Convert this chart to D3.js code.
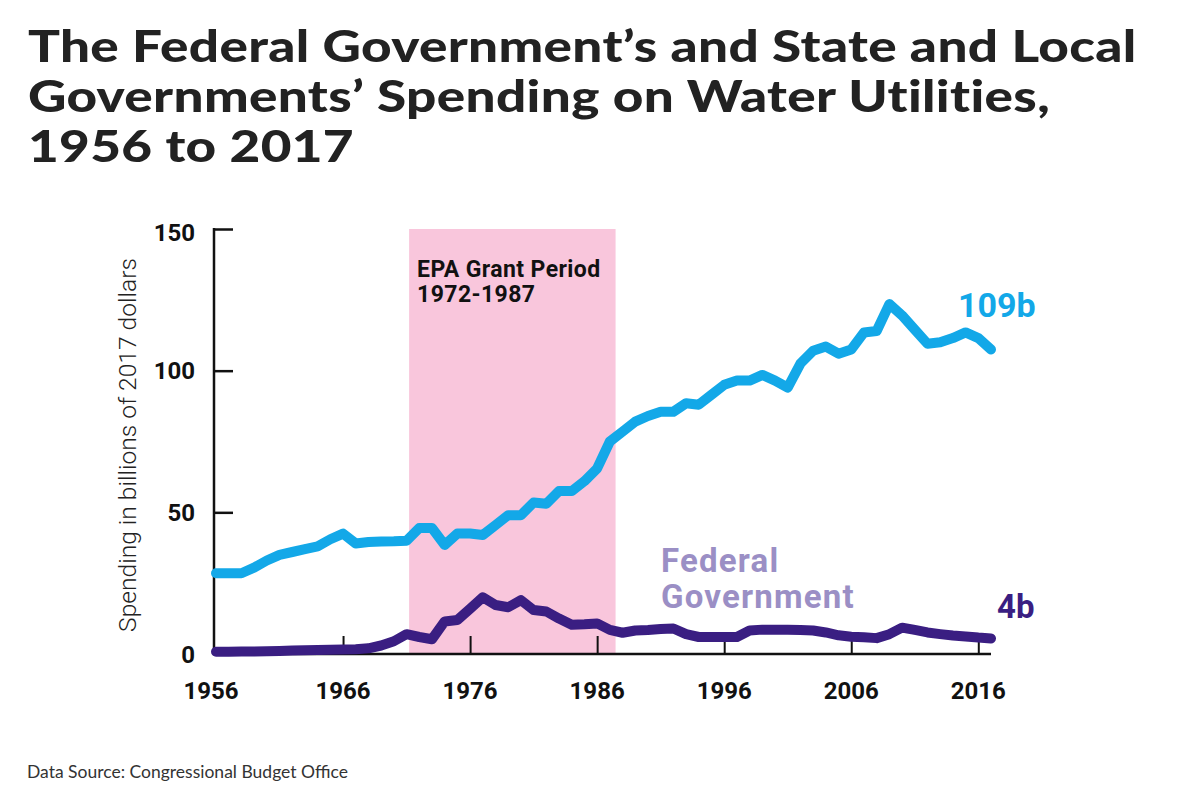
<!DOCTYPE html>
<html>
<head>
<meta charset="utf-8">
<script src="https://cdn.jsdelivr.net/npm/d3@7"></script>
<style>
  html, body { margin: 0; padding: 0; background: #fff; }
  svg { display: block; }
</style>
</head>
<body>
<svg id="chart" width="1200" height="800"></svg>
<script>
// ---- data ----
const years = d3.range(1956, 2018);
const totalSpending = [
  28.5, 28.5, 28.5, 30.5, 33, 35, 36, 37, 38, 40.5,      // 1956-1965
  42.5, 39, 39.5, 39.7, 39.8, 40, 44.5, 44.5, 38.5, 42.5, // 1966-1975
  42.5, 42, 45.5, 49, 49, 53.5, 53, 57.5, 57.5, 61,       // 1976-1985
  65.5, 75, 78.5, 82, 84, 85.5, 85.5, 88.5, 88, 91.5,     // 1986-1995
  95, 96.5, 96.5, 98.5, 96.5, 94, 102.5, 107, 108.5, 106, // 1996-2005
  107.5, 113.5, 114, 123.5, 119.5, 114.5, 109.5, 110, 111.5, 113.5, // 2006-2015
  111.5, 107.5                                            // 2016-2017
];
const federalSpending = [
  0.8, 0.8, 0.9, 0.9, 1, 1.1, 1.2, 1.3, 1.4, 1.5,         // 1956-1965
  1.6, 1.7, 2, 3, 4.5, 7, 6, 5.2, 11.5, 12,               // 1966-1975
  16, 20, 17.3, 16.5, 19, 15.5, 15, 12.5, 10.3, 10.5,     // 1976-1985
  10.8, 8.5, 7.5, 8.3, 8.5, 8.8, 9, 7, 6, 6,              // 1986-1995
  6, 6, 8.3, 8.6, 8.6, 8.6, 8.5, 8.3, 7.6, 6.6,           // 1996-2005
  6.1, 5.9, 5.6, 7, 9.3, 8.5, 7.6, 7, 6.5, 6.2,           // 2006-2015
  5.8, 5.5                                                // 2016-2017
];
const xTickYears = [1956, 1966, 1976, 1986, 1996, 2006, 2016];
const yTickValues = [0, 50, 100, 150];
const epaBand = [1971.2, 1987.45];
const epaLabel = ["EPA Grant Period", "1972-1987"];
const titleLines = [
  "The Federal Government\u2019s and State and Local",
  "Governments\u2019 Spending on Water Utilities,",
  "1956 to 2017"
];
const yAxisTitle = "Spending in billions of 2017 dollars";
const sourceText = "Data Source: Congressional Budget Office";
const endLabels = { total: "109b", federal: "4b" };
const federalLabel = ["Federal", "Government"];

// ---- styles ----
const BLUE = "#13a8e8";
const PURPLE = "#3a1e82";
const LAVENDER = "#9b8fc5";
const PINK = "#f9c6dc";

const svg = d3.select("#chart");

const x = d3.scaleLinear().domain([1956, 2017]).range([216, 991]);
const y = d3.scaleLinear().domain([0, 150]).range([654, 229]);

// Title (slightly widened glyphs to mimic the heavy, wide display face)
const TITLE_FS = 44;
const titleG = svg.append("g");
const titleSel = titleG.selectAll("text").data(titleLines).join("text")
  .attr("x", 0)
  .attr("y", (d, i) => 62 + i * 50)
  .attr("font-family", "Lato, 'Open Sans', sans-serif")
  .attr("font-weight", 900)
  .attr("font-size", TITLE_FS)
  .attr("letter-spacing", 0.3)
  .attr("fill", "#222")
  .text(d => d);
{
  const w0 = titleSel.nodes()[0].getComputedTextLength();
  const sx = 1109 / w0;
  titleG.attr("transform", `translate(28,0) scale(${sx.toFixed(4)},1)`);
}

// EPA band
svg.append("rect")
  .attr("x", x(epaBand[0]))
  .attr("y", y(150))
  .attr("width", x(epaBand[1]) - x(epaBand[0]))
  .attr("height", y(0) - y(150))
  .attr("fill", PINK);

svg.append("g").selectAll("text").data(epaLabel).join("text")
  .attr("x", x(epaBand[0]) + 8)
  .attr("y", (d, i) => 277 + i * 25)
  .attr("font-family", "Roboto, sans-serif")
  .attr("font-weight", 700)
  .attr("font-size", 23)
  .attr("letter-spacing", 0.4)
  .attr("fill", "#111")
  .text(d => d);

// Axes
const yAxis = d3.axisRight(y).tickValues(yTickValues.filter(v => v > 0)).tickSize(19).tickFormat("");
const yAxisG = svg.append("g").attr("transform", `translate(${x(1956) - 2},0)`).call(yAxis);
yAxisG.select(".domain").remove();
yAxisG.selectAll(".tick line").attr("stroke", "#111").attr("stroke-width", 2.5);
yAxisG.append("line")
  .attr("x1", 0).attr("x2", 0)
  .attr("y1", y(150) - 1).attr("y2", y(0) + 1)
  .attr("stroke", "#111").attr("stroke-width", 2.5);

const xAxis = d3.axisTop(x).tickValues(xTickYears.filter(v => v > 1956)).tickSize(18).tickFormat("");
const xAxisG = svg.append("g").attr("transform", `translate(0,${y(0)})`).call(xAxis);
xAxisG.select(".domain").remove();
xAxisG.selectAll(".tick line").attr("stroke", "#111").attr("stroke-width", 2);
xAxisG.append("line")
  .attr("x1", x(1956) - 3).attr("x2", x(2017))
  .attr("y1", 0).attr("y2", 0)
  .attr("stroke", "#111").attr("stroke-width", 2.5);

// Tick labels
svg.append("g").selectAll("text").data(yTickValues).join("text")
  .attr("x", 195)
  .attr("y", d => y(d) + (d === 150 ? 3 : 0))
  .attr("dy", "0.36em")
  .attr("text-anchor", "end")
  .attr("font-family", "Roboto, sans-serif")
  .attr("font-weight", 700)
  .attr("font-size", 24)
  .attr("fill", "#111")
  .text(d => d);

svg.append("g").selectAll("text").data(xTickYears).join("text")
  .attr("x", d => x(d) - (d === 1956 ? 5 : 0))
  .attr("y", 699)
  .attr("text-anchor", "middle")
  .attr("font-family", "Roboto, sans-serif")
  .attr("font-weight", 700)
  .attr("font-size", 24)
  .attr("fill", "#111")
  .text(d => d);

// Y axis title
const yt = svg.append("text")
  .attr("transform", "translate(136,445) rotate(-90)")
  .attr("text-anchor", "middle")
  .attr("font-family", "Roboto, sans-serif")
  .attr("font-weight", 300)
  .attr("font-size", 21)
  .attr("fill", "#222")
  .text(yAxisTitle);
const ytw = yt.node().getComputedTextLength();
yt.attr("font-size", 21 * 374 / ytw);

// Lines
const line = d3.line().x((d, i) => x(years[i])).y(d => y(d));
svg.append("path")
  .datum(totalSpending)
  .attr("d", line)
  .attr("fill", "none")
  .attr("stroke", BLUE)
  .attr("stroke-width", 10)
  .attr("stroke-linejoin", "round")
  .attr("stroke-linecap", "round");
svg.append("path")
  .datum(federalSpending)
  .attr("d", line)
  .attr("fill", "none")
  .attr("stroke", PURPLE)
  .attr("stroke-width", 10)
  .attr("stroke-linejoin", "round")
  .attr("stroke-linecap", "round");

// End labels
svg.append("text")
  .attr("x", 958).attr("y", 317)
  .attr("font-family", "Roboto, sans-serif")
  .attr("font-weight", 700)
  .attr("font-size", 34)
  .attr("fill", BLUE)
  .text(endLabels.total);
svg.append("text")
  .attr("x", 997).attr("y", 618)
  .attr("font-family", "Roboto, sans-serif")
  .attr("font-weight", 700)
  .attr("font-size", 33)
  .attr("fill", PURPLE)
  .text(endLabels.federal);

svg.append("g").selectAll("text").data(federalLabel).join("text")
  .attr("x", 661)
  .attr("y", (d, i) => 572 + i * 36)
  .attr("font-family", "Roboto, sans-serif")
  .attr("font-weight", 700)
  .attr("font-size", 33)
  .attr("letter-spacing", 1.2)
  .attr("fill", LAVENDER)
  .text(d => d);

// Source
svg.append("text")
  .attr("x", 27).attr("y", 778)
  .attr("font-family", "Lato, 'Open Sans', sans-serif")
  .attr("font-weight", 400)
  .attr("font-size", 17.5)
  .attr("fill", "#333")
  .text(sourceText);
</script>
</body>
</html>
